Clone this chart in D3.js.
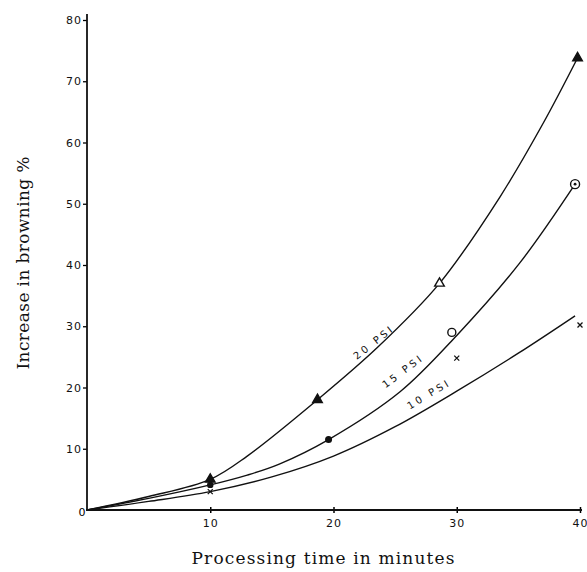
<!DOCTYPE html>
<html>
<head>
<meta charset="utf-8">
<script src="https://cdn.jsdelivr.net/npm/d3@7"></script>
<style>
  body { margin: 0; background: #fff; }
  svg { display: block; }
  .tick text { font-family: "DejaVu Sans", sans-serif; font-size: 11px; letter-spacing: 1px; fill: #111; }
  .title { font-family: "DejaVu Serif", serif; font-size: 17px; fill: #111; }
  .lbl { font-family: "DejaVu Sans", sans-serif; font-size: 10px; letter-spacing: 3px; fill: #111; }
</style>
</head>
<body>
<div id="chart"></div>
<script>
// fitted curves (minutes, % browning)
const curve20x = [0, 5, 10, 13, 18.7, 23.6, 28.6, 33.5, 37, 39.8]
const curve20y = [0, 2.2, 5, 8.8, 18, 26.6, 37, 51.1, 63.1, 73.8]
const curve15x = [0, 5, 10, 13, 15.6, 19.6, 25.4, 30, 35.1, 39.6]
const curve15y = [0, 1.9, 4.1, 5.7, 7.5, 11.5, 19.3, 28.5, 40.3, 53.2]
const curve10x = [0, 5, 10, 15, 20, 25, 30, 35, 39.6]
const curve10y = [0, 1.4, 3, 5.4, 8.8, 13.6, 19.4, 25.6, 31.7]

// observed points
const pts20x = [10, 18.7, 28.6, 39.8]
const pts20y = [5, 18, 37, 73.8]
const pts15x = [10, 19.6, 29.6, 39.6]
const pts15y = [4.1, 11.5, 29, 53.2]
const pts10x = [10, 30, 40]
const pts10y = [3, 24.8, 30.2]

const xTicks = [10, 20, 30, 40]
const yTicks = [10, 20, 30, 40, 50, 60, 70, 80]

const W = 587, H = 572
const svg = d3.select('#chart').append('svg').attr('width', W).attr('height', H)

const x = d3.scaleLinear().domain([0, 40]).range([87, 580])
const y = d3.scaleLinear().domain([0, 80]).range([510, 20])

const zip = (xs, ys) => xs.map((v, i) => [v, ys[i]])

// axes
const gx = svg.append('g').attr('transform', 'translate(0,510)')
  .call(d3.axisBottom(x).tickValues(xTicks).tickSize(3).tickPadding(6))
gx.select('.domain').remove()
gx.selectAll('.tick line').attr('y1', -3).attr('y2', 3).attr('stroke-width', 1.5)
gx.append('line').attr('x1', 86).attr('x2', 582).attr('stroke', '#111').attr('stroke-width', 1.8)

const gy = svg.append('g').attr('transform', 'translate(87,0)')
  .call(d3.axisLeft(y).tickValues(yTicks).tickSize(4).tickPadding(1))
gy.select('.domain').remove()
gy.selectAll('.tick line').attr('stroke-width', 1.3)
gy.append('line').attr('y1', 511).attr('y2', 14).attr('stroke', '#111').attr('stroke-width', 1.8)

svg.append('text').attr('x', 82).attr('y', 516)
  .attr('text-anchor', 'middle')
  .style('font-family', '"DejaVu Sans", sans-serif').style('font-size', '11px').text('0')

// curves
const line = d3.line().x(d => x(d[0])).y(d => y(d[1])).curve(d3.curveCatmullRom.alpha(0.5))
;[[curve20x, curve20y], [curve15x, curve15y], [curve10x, curve10y]].forEach(c => {
  svg.append('path').attr('d', line(zip(c[0], c[1])))
    .attr('fill', 'none').attr('stroke', '#111').attr('stroke-width', 1.4)
})

// markers
const tri = d3.symbol().type(d3.symbolTriangle).size(40)
const triOpen = [false, false, true, false]
svg.selectAll('path.tri').data(zip(pts20x, pts20y)).enter().append('path')
  .attr('class', 'tri').attr('d', tri)
  .attr('transform', d => `translate(${x(d[0])},${y(d[1])})`)
  .attr('fill', (d, i) => triOpen[i] ? '#fff' : '#111')
  .attr('stroke', '#111').attr('stroke-width', 1.4)

const circR = [2.5, 2.8, 4, 4.5]
const circOpen = [false, false, true, true]
svg.selectAll('circle.pt').data(zip(pts15x, pts15y)).enter().append('circle')
  .attr('class', 'pt').attr('cx', d => x(d[0])).attr('cy', d => y(d[1]))
  .attr('r', (d, i) => circR[i])
  .attr('fill', (d, i) => circOpen[i] ? '#fff' : '#111')
  .attr('stroke', '#111').attr('stroke-width', 1.4)
svg.append('circle').attr('cx', x(pts15x[3])).attr('cy', y(pts15y[3])).attr('r', 1.4).attr('fill', '#111')

const crossType = d3.symbolTimes || d3.symbolX || d3.symbolCross
const cross = d3.symbol().type(crossType).size(18)
svg.selectAll('path.x').data(zip(pts10x, pts10y)).enter().append('path')
  .attr('class', 'x').attr('d', cross)
  .attr('transform', d => `translate(${x(d[0])},${y(d[1])})`)
  .attr('fill', 'none').attr('stroke', '#111').attr('stroke-width', 1.3)

// curve labels
const labels = [
  { t: '20 PSI', x: 374, y: 342, a: -38 },
  { t: '15 PSI', x: 403, y: 371, a: -37 },
  { t: '10 PSI', x: 429, y: 394, a: -31 }
]
svg.selectAll('text.lbl').data(labels).enter().append('text')
  .attr('class', 'lbl').attr('text-anchor', 'middle')
  .attr('transform', d => `translate(${d.x},${d.y}) rotate(${d.a})`)
  .attr('dy', '0.35em').text(d => d.t)

// titles
svg.append('text').attr('class', 'title').attr('text-anchor', 'middle')
  .attr('transform', 'translate(29,263) rotate(-90)')
  .attr('textLength', 213).text('Increase in browning %')
svg.append('text').attr('class', 'title').attr('text-anchor', 'middle')
  .attr('x', 323).attr('y', 564).attr('textLength', 263)
  .text('Processing time in minutes')
</script>
</body>
</html>
